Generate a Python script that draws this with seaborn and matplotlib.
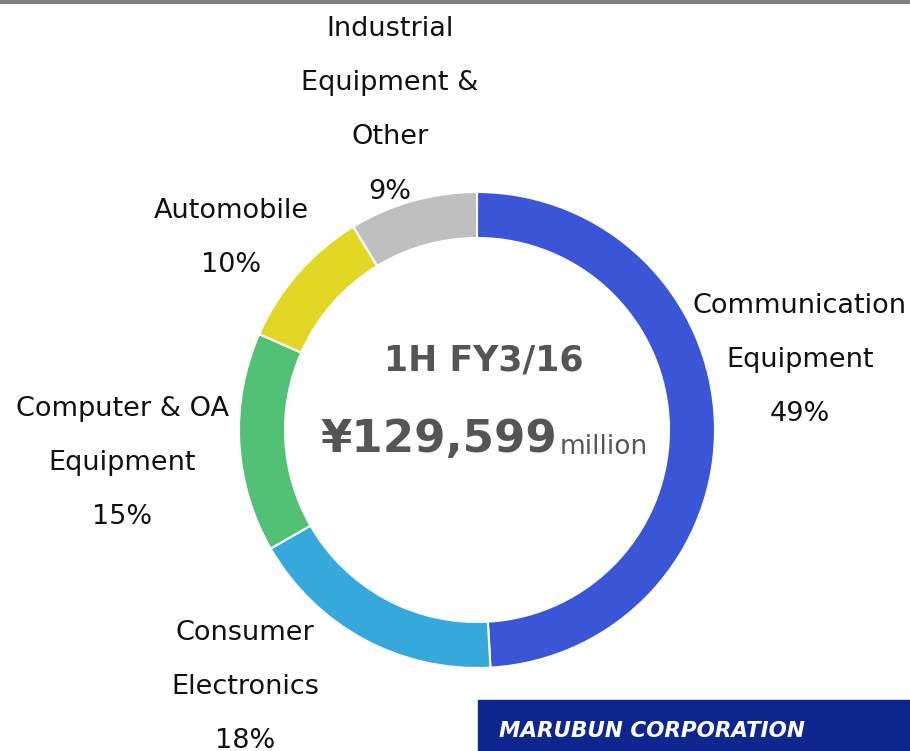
import matplotlib
matplotlib.use("Agg")
import matplotlib.pyplot as plt
import seaborn as sns

# data
segments = ["Communication\nEquipment", "Consumer\nElectronics", "Computer & OA\nEquipment",
            "Automobile", "Industrial\nEquipment &\nOther"]
shares = [49.1, 17.6, 14.9, 9.7, 8.7]
colors = ["#3A56D6", "#35A8DC", "#52C176", "#E2D725", "#BFBFBF"]
center_title = "1H FY3/16"
center_value = "¥129,599"
center_unit = "million"

sns.set_theme(style="white")
plt.rcParams["font.family"] = ["DejaVu Sans"]

fig = plt.figure(figsize=(9.1, 7.51), dpi=100)
ax = fig.add_axes([0, 0, 1, 1])

H = 751
cx, cy = 477, H - 430
ax.pie(shares, colors=colors, startangle=90, counterclock=False,
       center=(cx, cy), radius=238,
       wedgeprops=dict(width=46, edgecolor="white", linewidth=1.5))
ax.set_xlim(0, 910)
ax.set_ylim(0, H)
ax.set_aspect("equal")
ax.axis("off")

# label positions (pixel coords of first line centre)
label_pos = [(800, 305), (245, 632), (122, 408), (231, 210), (390, 28)]
for name, pct, (x, y) in zip(segments, shares, label_pos):
    ax.text(x, H - y + 12, f"{name}\n{round(pct)}%", ha="center", va="top", fontsize=19.5,
            color="#111111", linespacing=2.41)

ax.text(484, H - 361, center_title, ha="center", va="center", fontsize=25,
        fontweight="bold", color="#555555")
ax.text(557, H - 440, center_value, ha="right", va="center", fontsize=32.5,
        fontweight="bold", color="#555555")
ax.text(560, H - 447, center_unit, ha="left", va="center", fontsize=19,
        color="#555555")

# top rule
ax.plot([0, 910], [H - 1.5, H - 1.5], color="#808080", linewidth=3, solid_capstyle="butt")

# logo band
ax.add_patch(plt.Rectangle((478, 0), 432, 51, color="#0F2590", zorder=3))
ax.text(499, 20, "MARUBUN CORPORATION", ha="left", va="center", fontsize=15.5,
        fontweight="bold", fontstyle="italic", color="white", zorder=4)

fig.savefig("out.png", dpi=100)
